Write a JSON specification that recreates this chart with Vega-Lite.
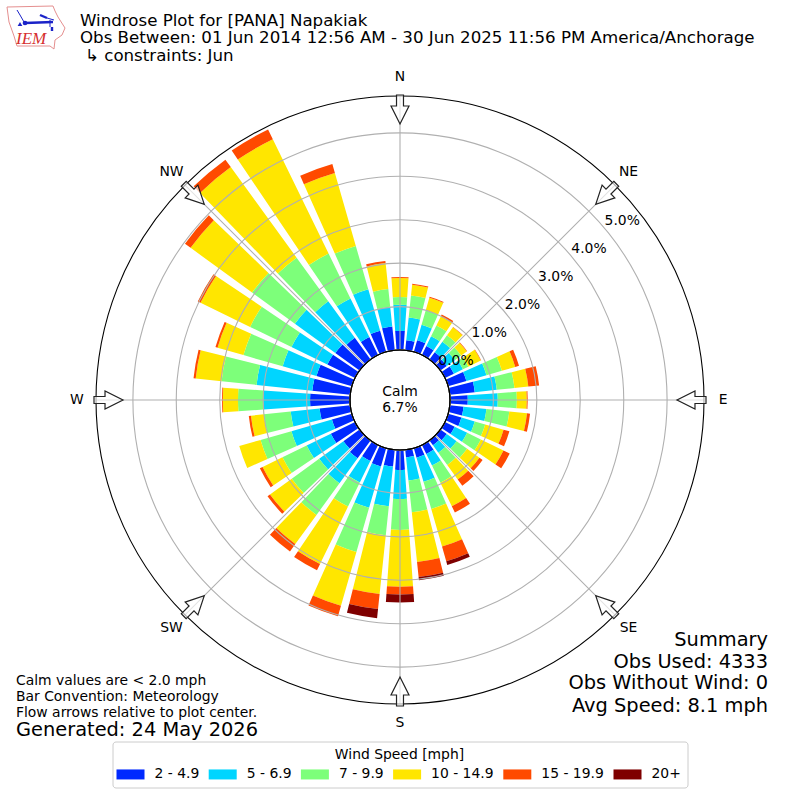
{
  "$schema": "https://vega.github.io/schema/vega-lite/v6.json",
  "width": 800,
  "height": 800,
  "padding": 0,
  "autosize": {"type": "fit", "contains": "padding"},
  "background": "white",
  "config": {
    "view": {"stroke": null},
    "font": "DejaVu Sans",
    "text": {"font": "DejaVu Sans", "color": "black"}
  },
  "datasets": {
    "rose": [
      {"dir":0,"band":1,"speed":"2 - 4.9","pct":0.44},{"dir":0,"band":2,"speed":"5 - 6.9","pct":0.60},{"dir":0,"band":3,"speed":"7 - 9.9","pct":0.18},{"dir":0,"band":4,"speed":"10 - 14.9","pct":0.44},{"dir":0,"band":5,"speed":"15 - 19.9","pct":0.02},
      {"dir":10,"band":1,"speed":"2 - 4.9","pct":0.23},{"dir":10,"band":2,"speed":"5 - 6.9","pct":0.53},{"dir":10,"band":3,"speed":"7 - 9.9","pct":0.51},{"dir":10,"band":4,"speed":"10 - 14.9","pct":0.25},{"dir":10,"band":5,"speed":"15 - 19.9","pct":0.02},
      {"dir":20,"band":1,"speed":"2 - 4.9","pct":0.28},{"dir":20,"band":2,"speed":"5 - 6.9","pct":0.37},{"dir":20,"band":3,"speed":"7 - 9.9","pct":0.35},{"dir":20,"band":4,"speed":"10 - 14.9","pct":0.30},{"dir":20,"band":5,"speed":"15 - 19.9","pct":0.02},
      {"dir":30,"band":1,"speed":"2 - 4.9","pct":0.23},{"dir":30,"band":2,"speed":"5 - 6.9","pct":0.25},{"dir":30,"band":3,"speed":"7 - 9.9","pct":0.28},{"dir":30,"band":4,"speed":"10 - 14.9","pct":0.23},{"dir":30,"band":5,"speed":"15 - 19.9","pct":0.05},
      {"dir":40,"band":1,"speed":"2 - 4.9","pct":0.21},{"dir":40,"band":2,"speed":"5 - 6.9","pct":0.30},{"dir":40,"band":3,"speed":"7 - 9.9","pct":0.18},{"dir":40,"band":4,"speed":"10 - 14.9","pct":0.23},{"dir":40,"band":5,"speed":"15 - 19.9","pct":0.01},
      {"dir":50,"band":1,"speed":"2 - 4.9","pct":0.18},{"dir":50,"band":2,"speed":"5 - 6.9","pct":0.23},{"dir":50,"band":3,"speed":"7 - 9.9","pct":0.18},{"dir":50,"band":4,"speed":"10 - 14.9","pct":0.16},{"dir":50,"band":5,"speed":"15 - 19.9","pct":0.01},
      {"dir":60,"band":1,"speed":"2 - 4.9","pct":0.23},{"dir":60,"band":2,"speed":"5 - 6.9","pct":0.23},{"dir":60,"band":3,"speed":"7 - 9.9","pct":0.14},{"dir":60,"band":4,"speed":"10 - 14.9","pct":0.32},{"dir":60,"band":5,"speed":"15 - 19.9","pct":0.01},
      {"dir":70,"band":1,"speed":"2 - 4.9","pct":0.44},{"dir":70,"band":2,"speed":"5 - 6.9","pct":0.48},{"dir":70,"band":3,"speed":"7 - 9.9","pct":0.37},{"dir":70,"band":4,"speed":"10 - 14.9","pct":0.32},{"dir":70,"band":5,"speed":"15 - 19.9","pct":0.09},
      {"dir":80,"band":1,"speed":"2 - 4.9","pct":0.58},{"dir":80,"band":2,"speed":"5 - 6.9","pct":0.51},{"dir":80,"band":3,"speed":"7 - 9.9","pct":0.41},{"dir":80,"band":4,"speed":"10 - 14.9","pct":0.32},{"dir":80,"band":5,"speed":"15 - 19.9","pct":0.25},
      {"dir":90,"band":1,"speed":"2 - 4.9","pct":0.41},{"dir":90,"band":2,"speed":"5 - 6.9","pct":0.69},{"dir":90,"band":3,"speed":"7 - 9.9","pct":0.44},{"dir":90,"band":4,"speed":"10 - 14.9","pct":0.23},{"dir":90,"band":5,"speed":"15 - 19.9","pct":0.02},
      {"dir":100,"band":1,"speed":"2 - 4.9","pct":0.32},{"dir":100,"band":2,"speed":"5 - 6.9","pct":0.53},{"dir":100,"band":3,"speed":"7 - 9.9","pct":0.53},{"dir":100,"band":4,"speed":"10 - 14.9","pct":0.41},{"dir":100,"band":5,"speed":"15 - 19.9","pct":0.07},
      {"dir":110,"band":1,"speed":"2 - 4.9","pct":0.32},{"dir":110,"band":2,"speed":"5 - 6.9","pct":0.32},{"dir":110,"band":3,"speed":"7 - 9.9","pct":0.25},{"dir":110,"band":4,"speed":"10 - 14.9","pct":0.44},{"dir":110,"band":5,"speed":"15 - 19.9","pct":0.14},
      {"dir":120,"band":1,"speed":"2 - 4.9","pct":0.25},{"dir":120,"band":2,"speed":"5 - 6.9","pct":0.32},{"dir":120,"band":3,"speed":"7 - 9.9","pct":0.35},{"dir":120,"band":4,"speed":"10 - 14.9","pct":0.58},{"dir":120,"band":5,"speed":"15 - 19.9","pct":0.16},
      {"dir":130,"band":1,"speed":"2 - 4.9","pct":0.18},{"dir":130,"band":2,"speed":"5 - 6.9","pct":0.28},{"dir":130,"band":3,"speed":"7 - 9.9","pct":0.30},{"dir":130,"band":4,"speed":"10 - 14.9","pct":0.35},{"dir":130,"band":5,"speed":"15 - 19.9","pct":0.09},
      {"dir":140,"band":1,"speed":"2 - 4.9","pct":0.14},{"dir":140,"band":2,"speed":"5 - 6.9","pct":0.21},{"dir":140,"band":3,"speed":"7 - 9.9","pct":0.35},{"dir":140,"band":4,"speed":"10 - 14.9","pct":0.41},{"dir":140,"band":5,"speed":"15 - 19.9","pct":0.18},
      {"dir":150,"band":1,"speed":"2 - 4.9","pct":0.23},{"dir":150,"band":2,"speed":"5 - 6.9","pct":0.30},{"dir":150,"band":3,"speed":"7 - 9.9","pct":0.44},{"dir":150,"band":4,"speed":"10 - 14.9","pct":0.60},{"dir":150,"band":5,"speed":"15 - 19.9","pct":0.16},
      {"dir":160,"band":1,"speed":"2 - 4.9","pct":0.23},{"dir":160,"band":2,"speed":"5 - 6.9","pct":0.58},{"dir":160,"band":3,"speed":"7 - 9.9","pct":0.65},{"dir":160,"band":4,"speed":"10 - 14.9","pct":0.90},{"dir":160,"band":5,"speed":"15 - 19.9","pct":0.35},{"dir":160,"band":6,"speed":"20+","pct":0.09},
      {"dir":170,"band":1,"speed":"2 - 4.9","pct":0.18},{"dir":170,"band":2,"speed":"5 - 6.9","pct":0.53},{"dir":170,"band":3,"speed":"7 - 9.9","pct":0.74},{"dir":170,"band":4,"speed":"10 - 14.9","pct":1.15},{"dir":170,"band":5,"speed":"15 - 19.9","pct":0.35},{"dir":170,"band":6,"speed":"20+","pct":0.07},
      {"dir":180,"band":1,"speed":"2 - 4.9","pct":0.46},{"dir":180,"band":2,"speed":"5 - 6.9","pct":0.67},{"dir":180,"band":3,"speed":"7 - 9.9","pct":0.71},{"dir":180,"band":4,"speed":"10 - 14.9","pct":1.31},{"dir":180,"band":5,"speed":"15 - 19.9","pct":0.18},{"dir":180,"band":6,"speed":"20+","pct":0.18},
      {"dir":190,"band":1,"speed":"2 - 4.9","pct":0.39},{"dir":190,"band":2,"speed":"5 - 6.9","pct":0.92},{"dir":190,"band":3,"speed":"7 - 9.9","pct":0.67},{"dir":190,"band":4,"speed":"10 - 14.9","pct":1.36},{"dir":190,"band":5,"speed":"15 - 19.9","pct":0.35},{"dir":190,"band":6,"speed":"20+","pct":0.21},
      {"dir":200,"band":1,"speed":"2 - 4.9","pct":0.44},{"dir":200,"band":2,"speed":"5 - 6.9","pct":0.99},{"dir":200,"band":3,"speed":"7 - 9.9","pct":1.06},{"dir":200,"band":4,"speed":"10 - 14.9","pct":1.29},{"dir":200,"band":5,"speed":"15 - 19.9","pct":0.25},
      {"dir":210,"band":1,"speed":"2 - 4.9","pct":0.41},{"dir":210,"band":2,"speed":"5 - 6.9","pct":0.55},{"dir":210,"band":3,"speed":"7 - 9.9","pct":0.62},{"dir":210,"band":4,"speed":"10 - 14.9","pct":1.47},{"dir":210,"band":5,"speed":"15 - 19.9","pct":0.16},
      {"dir":220,"band":1,"speed":"2 - 4.9","pct":0.51},{"dir":220,"band":2,"speed":"5 - 6.9","pct":0.71},{"dir":220,"band":3,"speed":"7 - 9.9","pct":0.90},{"dir":220,"band":4,"speed":"10 - 14.9","pct":0.83},{"dir":220,"band":5,"speed":"15 - 19.9","pct":0.21},
      {"dir":230,"band":1,"speed":"2 - 4.9","pct":0.46},{"dir":230,"band":2,"speed":"5 - 6.9","pct":0.69},{"dir":230,"band":3,"speed":"7 - 9.9","pct":0.78},{"dir":230,"band":4,"speed":"10 - 14.9","pct":0.62},{"dir":230,"band":5,"speed":"15 - 19.9","pct":0.07},
      {"dir":240,"band":1,"speed":"2 - 4.9","pct":0.62},{"dir":240,"band":2,"speed":"5 - 6.9","pct":0.62},{"dir":240,"band":3,"speed":"7 - 9.9","pct":0.62},{"dir":240,"band":4,"speed":"10 - 14.9","pct":0.51},{"dir":240,"band":5,"speed":"15 - 19.9","pct":0.07},
      {"dir":250,"band":1,"speed":"2 - 4.9","pct":0.48},{"dir":250,"band":2,"speed":"5 - 6.9","pct":0.97},{"dir":250,"band":3,"speed":"7 - 9.9","pct":0.74},{"dir":250,"band":4,"speed":"10 - 14.9","pct":0.51},
      {"dir":260,"band":1,"speed":"2 - 4.9","pct":0.71},{"dir":260,"band":2,"speed":"5 - 6.9","pct":0.67},{"dir":260,"band":3,"speed":"7 - 9.9","pct":0.62},{"dir":260,"band":4,"speed":"10 - 14.9","pct":0.30},{"dir":260,"band":5,"speed":"15 - 19.9","pct":0.05},
      {"dir":270,"band":1,"speed":"2 - 4.9","pct":0.92},{"dir":270,"band":2,"speed":"5 - 6.9","pct":1.08},{"dir":270,"band":3,"speed":"7 - 9.9","pct":0.58},{"dir":270,"band":4,"speed":"10 - 14.9","pct":0.35},{"dir":270,"band":5,"speed":"15 - 19.9","pct":0.02},
      {"dir":280,"band":1,"speed":"2 - 4.9","pct":0.88},{"dir":280,"band":2,"speed":"5 - 6.9","pct":1.29},{"dir":280,"band":3,"speed":"7 - 9.9","pct":0.81},{"dir":280,"band":4,"speed":"10 - 14.9","pct":0.60},{"dir":280,"band":5,"speed":"15 - 19.9","pct":0.05},
      {"dir":290,"band":1,"speed":"2 - 4.9","pct":0.85},{"dir":290,"band":2,"speed":"5 - 6.9","pct":0.81},{"dir":290,"band":3,"speed":"7 - 9.9","pct":0.94},{"dir":290,"band":4,"speed":"10 - 14.9","pct":0.62},{"dir":290,"band":5,"speed":"15 - 19.9","pct":0.05},
      {"dir":300,"band":1,"speed":"2 - 4.9","pct":0.71},{"dir":300,"band":2,"speed":"5 - 6.9","pct":0.92},{"dir":300,"band":3,"speed":"7 - 9.9","pct":1.06},{"dir":300,"band":4,"speed":"10 - 14.9","pct":1.27},{"dir":300,"band":5,"speed":"15 - 19.9","pct":0.07},
      {"dir":310,"band":1,"speed":"2 - 4.9","pct":0.69},{"dir":310,"band":2,"speed":"5 - 6.9","pct":1.15},{"dir":310,"band":3,"speed":"7 - 9.9","pct":1.22},{"dir":310,"band":4,"speed":"10 - 14.9","pct":1.75},{"dir":310,"band":5,"speed":"15 - 19.9","pct":0.16},
      {"dir":320,"band":1,"speed":"2 - 4.9","pct":0.62},{"dir":320,"band":2,"speed":"5 - 6.9","pct":1.04},{"dir":320,"band":3,"speed":"7 - 9.9","pct":1.24},{"dir":320,"band":4,"speed":"10 - 14.9","pct":2.58},{"dir":320,"band":5,"speed":"15 - 19.9","pct":0.21},
      {"dir":330,"band":1,"speed":"2 - 4.9","pct":0.46},{"dir":330,"band":2,"speed":"5 - 6.9","pct":0.99},{"dir":330,"band":3,"speed":"7 - 9.9","pct":1.15},{"dir":330,"band":4,"speed":"10 - 14.9","pct":2.93},{"dir":330,"band":5,"speed":"15 - 19.9","pct":0.25},
      {"dir":340,"band":1,"speed":"2 - 4.9","pct":0.51},{"dir":340,"band":2,"speed":"5 - 6.9","pct":0.99},{"dir":340,"band":3,"speed":"7 - 9.9","pct":1.04},{"dir":340,"band":4,"speed":"10 - 14.9","pct":1.75},{"dir":340,"band":5,"speed":"15 - 19.9","pct":0.21},
      {"dir":350,"band":1,"speed":"2 - 4.9","pct":0.55},{"dir":350,"band":2,"speed":"5 - 6.9","pct":0.46},{"dir":350,"band":3,"speed":"7 - 9.9","pct":0.41},{"dir":350,"band":4,"speed":"10 - 14.9","pct":0.60},{"dir":350,"band":5,"speed":"15 - 19.9","pct":0.05}
    ],
    "rings": [{"pct":1,"label":"1.0%"},{"pct":2,"label":"2.0%"},{"pct":3,"label":"3.0%"},{"pct":4,"label":"4.0%"},{"pct":5,"label":"5.0%"}],
    "compass": [
      {"dir":0,"label":"N","x":400,"y":109.5},{"dir":45,"label":"NE","x":606,"y":194},{"dir":90,"label":"E","x":691.5,"y":400},{"dir":135,"label":"SE","x":606,"y":606},
      {"dir":180,"label":"S","x":400,"y":691.5},{"dir":225,"label":"SW","x":194,"y":606},{"dir":270,"label":"W","x":108.5,"y":400},{"dir":315,"label":"NW","x":194,"y":194}
    ]
  },
  "layer": [
    {
      "data": {"name": "rose"},
      "transform": [{"stack": "pct", "groupby": ["dir"], "sort": [{"field": "band"}], "as": ["p0", "p1"]}],
      "mark": {"type": "arc"},
      "encoding": {
        "theta": {"field": "dir", "type": "ordinal", "scale": {"range": [-0.08727, 6.19592], "paddingInner": 0.2, "paddingOuter": 0.1}},
        "radius": {"field": "p0", "type": "quantitative", "stack": null, "scale": {"type": "linear", "zero": false, "domain": [0, 5.85], "range": [50, 304]}},
        "radius2": {"field": "p1"},
        "color": {
          "field": "speed",
          "type": "nominal",
          "scale": {
            "domain": ["2 - 4.9", "5 - 6.9", "7 - 9.9", "10 - 14.9", "15 - 19.9", "20+"],
            "range": ["#0029ff", "#00d5ff", "#7dff7a", "#ffe600", "#ff4a00", "#7f0000"]
          },
          "legend": {
            "title": "Wind Speed [mph]",
            "orient": "none",
            "legendX": 112.5,
            "legendY": 741.5,
            "direction": "horizontal",
            "columns": 6,
            "titleAnchor": "middle",
            "titleFontSize": 13.9,
            "titleFontWeight": "normal",
            "titleColor": "black",
            "titlePadding": 1,
            "labelFontSize": 13.9,
            "labelColor": "black",
            "labelOffset": 12,
            "symbolType": "M-1.167,-0.417H1.167V0.417H-1.167Z",
            "symbolSize": 576,
            "symbolStrokeWidth": 0,
            "columnPadding": 8.2,
            "padding": 6,
            "fillColor": "white",
            "strokeColor": "#cccccc",
            "cornerRadius": 3
          }
        }
      }
    },
    {
      "data": {"name": "rings"},
      "mark": {"type": "arc", "theta": 0, "theta2": 6.2832, "fillOpacity": 0, "stroke": "#b0b0b0", "strokeWidth": 1.1},
      "encoding": {"radius": {"field": "pct", "type": "quantitative", "stack": null, "scale": {"type": "linear", "zero": false, "domain": [0, 5.85], "range": [50, 304]}}}
    },
    {
      "data": {"name": "compass"},
      "mark": {"type": "arc", "stroke": "#b0b0b0", "strokeWidth": 1.1},
      "encoding": {
        "theta": {"field": "dir", "type": "quantitative", "stack": null, "scale": {"domain": [0, 360], "range": [0, 6.2832]}},
        "theta2": {"field": "dir"},
        "radius": {"datum": 0, "stack": null, "scale": {"type": "linear", "zero": false, "domain": [0, 5.85], "range": [50, 304]}},
        "radius2": {"datum": 5.85}
      }
    },
    {
      "data": {"values": [{"pct": 0}, {"pct": 5.85}]},
      "mark": {"type": "arc", "theta": 0, "theta2": 6.2832, "fillOpacity": 0, "stroke": "black", "strokeWidth": 1.1},
      "encoding": {"radius": {"field": "pct", "type": "quantitative", "stack": null, "scale": {"type": "linear", "zero": false, "domain": [0, 5.85], "range": [50, 304]}}}
    },
    {
      "data": {"name": "compass"},
      "mark": {"type": "point", "filled": true, "fill": "white", "fillOpacity": 0.65, "stroke": "#222222", "strokeOpacity": 1, "strokeWidth": 1.2, "shape": "M-0.24,-1L0.24,-1L0.24,-0.24L0.62,-0.24L0,1L-0.62,-0.24L-0.24,-0.24Z", "size": 841},
      "encoding": {
        "x": {"field": "x", "type": "quantitative", "axis": null, "scale": {"domain": [0, 800], "range": [0, 800]}},
        "y": {"field": "y", "type": "quantitative", "axis": null, "scale": {"domain": [0, 800], "range": [0, 800]}},
        "angle": {"field": "dir", "type": "quantitative", "scale": {"domain": [0, 360], "range": [0, 360]}}
      }
    },
    {
      "data": {"name": "compass"},
      "mark": {"type": "text", "fontSize": 13.9},
      "encoding": {
        "theta": {"field": "dir", "type": "quantitative", "stack": null, "scale": {"domain": [0, 360], "range": [0, 6.2832]}},
        "radius": {"datum": 6.29, "stack": null, "scale": {"type": "linear", "zero": false, "domain": [0, 5.85], "range": [50, 304]}},
        "text": {"field": "label"}
      }
    },
    {
      "data": {"values": [{"pct":0,"label":"0.0%"},{"pct":1,"label":"1.0%"},{"pct":2,"label":"2.0%"},{"pct":3,"label":"3.0%"},{"pct":4,"label":"4.0%"},{"pct":5,"label":"5.0%"}]},
      "mark": {"type": "text", "fontSize": 13.9, "align": "left", "baseline": "bottom"},
      "encoding": {
        "theta": {"datum": 50, "type": "quantitative", "stack": null, "scale": {"domain": [0, 360], "range": [0, 6.2832]}},
        "radius": {"field": "pct", "type": "quantitative", "stack": null, "scale": {"type": "linear", "zero": false, "domain": [0, 5.85], "range": [50, 304]}},
        "text": {"field": "label"}
      }
    },
    {
      "data": {"values": [
        {"x":80,"y":26,"t":"Windrose Plot for [PANA] Napakiak"},
        {"x":80,"y":43,"t":"Obs Between: 01 Jun 2014 12:56 AM - 30 Jun 2025 11:56 PM America/Anchorage"},
        {"x":85,"y":61,"t":"↳ constraints: Jun"}
      ]},
      "mark": {"type": "text", "fontSize": 16.65, "align": "left", "baseline": "alphabetic"},
      "encoding": {
        "x": {"field": "x", "type": "quantitative", "axis": null, "scale": {"domain": [0, 800], "range": [0, 800]}},
        "y": {"field": "y", "type": "quantitative", "axis": null, "scale": {"domain": [0, 800], "range": [0, 800]}},
        "text": {"field": "t"}
      }
    },
    {
      "data": {"values": [
        {"x":400,"y":396,"t":"Calm"},
        {"x":400,"y":412,"t":"6.7%"}
      ]},
      "mark": {"type": "text", "fontSize": 13.9, "align": "center", "baseline": "alphabetic"},
      "encoding": {
        "x": {"field": "x", "type": "quantitative", "axis": null, "scale": {"domain": [0, 800], "range": [0, 800]}},
        "y": {"field": "y", "type": "quantitative", "axis": null, "scale": {"domain": [0, 800], "range": [0, 800]}},
        "text": {"field": "t"}
      }
    },
    {
      "data": {"values": [
        {"x":16,"y":685,"t":"Calm values are < 2.0 mph"},
        {"x":16,"y":701,"t":"Bar Convention: Meteorology"},
        {"x":16,"y":717,"t":"Flow arrows relative to plot center."}
      ]},
      "mark": {"type": "text", "fontSize": 13.9, "align": "left", "baseline": "alphabetic"},
      "encoding": {
        "x": {"field": "x", "type": "quantitative", "axis": null, "scale": {"domain": [0, 800], "range": [0, 800]}},
        "y": {"field": "y", "type": "quantitative", "axis": null, "scale": {"domain": [0, 800], "range": [0, 800]}},
        "text": {"field": "t"}
      }
    },
    {
      "data": {"values": [{"x":16,"y":736,"t":"Generated: 24 May 2026"}]},
      "mark": {"type": "text", "fontSize": 19.4, "align": "left", "baseline": "alphabetic"},
      "encoding": {
        "x": {"field": "x", "type": "quantitative", "axis": null, "scale": {"domain": [0, 800], "range": [0, 800]}},
        "y": {"field": "y", "type": "quantitative", "axis": null, "scale": {"domain": [0, 800], "range": [0, 800]}},
        "text": {"field": "t"}
      }
    },
    {
      "data": {"values": [
        {"x":768,"y":646,"t":"Summary"},
        {"x":768,"y":668,"t":"Obs Used: 4333"},
        {"x":768,"y":689,"t":"Obs Without Wind: 0"},
        {"x":768,"y":712,"t":"Avg Speed: 8.1 mph"}
      ]},
      "mark": {"type": "text", "fontSize": 19.4, "align": "right", "baseline": "alphabetic"},
      "encoding": {
        "x": {"field": "x", "type": "quantitative", "axis": null, "scale": {"domain": [0, 800], "range": [0, 800]}},
        "y": {"field": "y", "type": "quantitative", "axis": null, "scale": {"domain": [0, 800], "range": [0, 800]}},
        "text": {"field": "t"}
      }
    },
    {
      "data": {"values": [
        {"o":1,"x":7,"y":7},{"o":2,"x":53,"y":6},{"o":3,"x":55,"y":11},{"o":4,"x":58,"y":17},{"o":5,"x":65,"y":28},{"o":6,"x":62,"y":35},{"o":7,"x":55,"y":40},{"o":8,"x":54,"y":49},{"o":9,"x":50,"y":46},{"o":10,"x":17,"y":46},{"o":11,"x":14,"y":36},{"o":12,"x":9,"y":22},{"o":13,"x":7,"y":7}
      ]},
      "mark": {"type": "line", "color": "#e58f8f", "strokeWidth": 1},
      "encoding": {
        "x": {"field": "x", "type": "quantitative", "axis": null, "scale": {"domain": [0, 800], "range": [0, 800]}},
        "y": {"field": "y", "type": "quantitative", "axis": null, "scale": {"domain": [0, 800], "range": [0, 800]}},
        "order": {"field": "o"}
      }
    },
    {
      "data": {"values": [
        {"g":"a","o":1,"x":25,"y":23},{"g":"a","o":2,"x":53,"y":22},
        {"g":"b","o":1,"x":40,"y":15},{"g":"b","o":2,"x":47,"y":18},
        {"g":"c","o":1,"x":52,"y":27},{"g":"c","o":2,"x":52,"y":31}
      ]},
      "mark": {"type": "line", "color": "#1a22c8", "strokeWidth": 2.4},
      "encoding": {
        "x": {"field": "x", "type": "quantitative", "axis": null, "scale": {"domain": [0, 800], "range": [0, 800]}},
        "y": {"field": "y", "type": "quantitative", "axis": null, "scale": {"domain": [0, 800], "range": [0, 800]}},
        "detail": {"field": "g"},
        "order": {"field": "o"}
      }
    },
    {
      "data": {"values": [
        {"g":"a","o":1,"x":17,"y":10},{"g":"a","o":2,"x":20,"y":15},{"g":"a","o":3,"x":24,"y":22},
        {"g":"b","o":1,"x":47,"y":18},{"g":"b","o":2,"x":54,"y":20},
        {"g":"c","o":1,"x":50,"y":20},{"g":"c","o":2,"x":50,"y":27}
      ]},
      "mark": {"type": "line", "color": "#1a22c8", "strokeWidth": 1},
      "encoding": {
        "x": {"field": "x", "type": "quantitative", "axis": null, "scale": {"domain": [0, 800], "range": [0, 800]}},
        "y": {"field": "y", "type": "quantitative", "axis": null, "scale": {"domain": [0, 800], "range": [0, 800]}},
        "detail": {"field": "g"},
        "order": {"field": "o"}
      }
    },
    {
      "data": {"values": [{"x":25,"y":23,"s":"circle"},{"x":20,"y":24,"s":"triangle-up"}]},
      "mark": {"type": "point", "filled": true, "color": "#1a22c8", "opacity": 1, "size": 22},
      "encoding": {
        "x": {"field": "x", "type": "quantitative", "axis": null, "scale": {"domain": [0, 800], "range": [0, 800]}},
        "y": {"field": "y", "type": "quantitative", "axis": null, "scale": {"domain": [0, 800], "range": [0, 800]}},
        "shape": {"field": "s", "type": "nominal", "scale": null, "legend": null}
      }
    },
    {
      "data": {"values": [{"x":16,"y":44,"t":"IEM"}]},
      "mark": {"type": "text", "font": "Liberation Serif", "fontStyle": "italic", "fontSize": 17, "color": "#d62f2f", "align": "left", "baseline": "alphabetic"},
      "encoding": {
        "x": {"field": "x", "type": "quantitative", "axis": null, "scale": {"domain": [0, 800], "range": [0, 800]}},
        "y": {"field": "y", "type": "quantitative", "axis": null, "scale": {"domain": [0, 800], "range": [0, 800]}},
        "text": {"field": "t"}
      }
    }
  ],
  "resolve": {"scale": {"theta": "independent", "color": "independent"}}
}
